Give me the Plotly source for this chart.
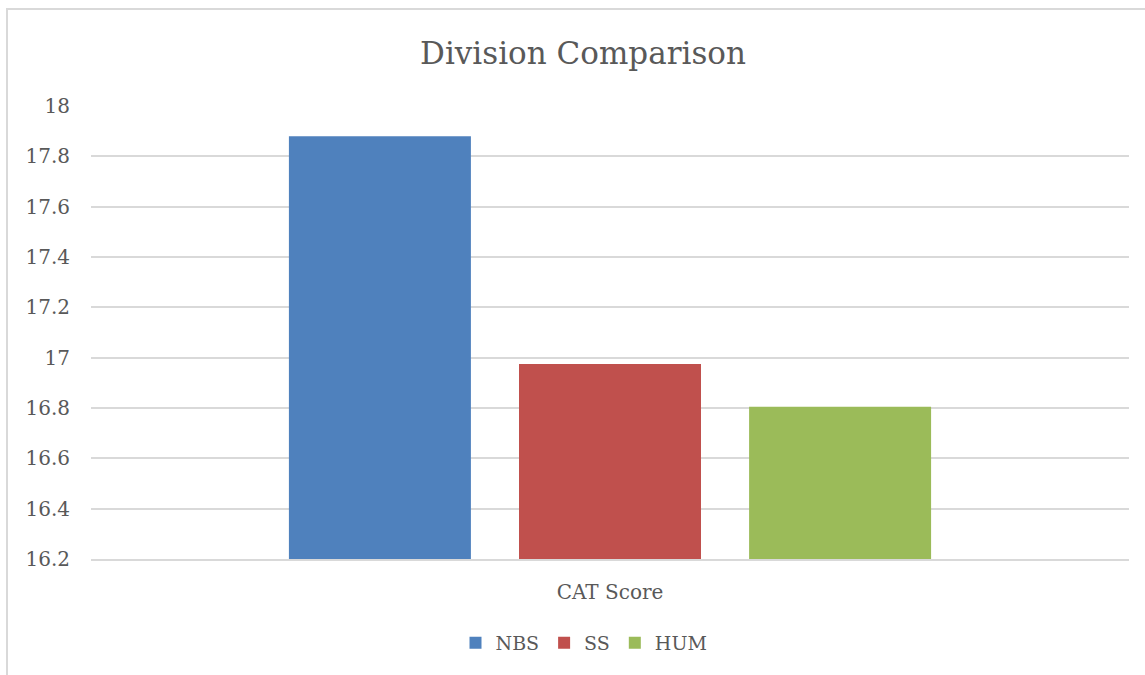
import plotly.graph_objects as go

categories = ["CAT Score"]
series_names = ["NBS", "SS", "HUM"]
nbs_values = [17.88]
ss_values = [16.975]
hum_values = [16.805]
colors = ["#4F81BD", "#C0504D", "#9BBB59"]
y_ticks = [16.2, 16.4, 16.6, 16.8, 17, 17.2, 17.4, 17.6, 17.8, 18]
y_tick_labels = ["16.2", "16.4", "16.6", "16.8", "17", "17.2", "17.4", "17.6", "17.8", "18"]

W, H = 1145, 675
ml, mr, mt, mb = 91, 16, 106, 116
pw = W - ml - mr
ph = H - mt - mb

FONT = "DejaVu Serif"
TXT = "#595959"

fig = go.Figure()
for name, vals, col in zip(series_names, [nbs_values, ss_values, hum_values], colors):
    fig.add_trace(go.Bar(x=categories, y=vals, name=name, marker=dict(color=col, line=dict(width=0))))

fig.update_layout(
    width=W, height=H,
    margin=dict(l=ml, r=mr, t=mt, b=mb),
    paper_bgcolor="white", plot_bgcolor="white",
    barmode="group", bargap=0.335, bargroupgap=0.209,
    title=dict(text="Division Comparison", x=583 / W, xref="container", xanchor="center",
               y=1 - 53 / H, yref="container", yanchor="middle",
               font=dict(family=FONT, size=31, color=TXT)),
    font=dict(family=FONT, color=TXT),
    showlegend=True,
    legend=dict(orientation="h", x=584 / W, xref="container", xanchor="center",
                y=1 - 643 / H, yref="container", yanchor="middle",
                font=dict(family=FONT, size=19, color=TXT),
                itemwidth=30, tracegroupgap=0),
    hovermode=False,
    shapes=[
        dict(type="rect", xref="paper", yref="paper",
             x0=(7 - ml) / pw, x1=(W + 20 - ml) / pw,
             y0=(H - mb - (H + 20)) / ph, y1=(H - mb - 9) / ph,
             line=dict(color="#d9d9d9", width=2), fillcolor="rgba(0,0,0,0)", layer="below"),
    ],
)
fig.update_yaxes(range=[16.2, 18], tickvals=y_ticks, ticktext=y_tick_labels,
                 showgrid=True, gridcolor="#d9d9d9", gridwidth=1.5, zeroline=False,
                 showline=False, ticks="", ticklabelstandoff=20,
                 tickfont=dict(family=FONT, size=20, color=TXT))
fig.update_xaxes(showgrid=False, zeroline=False, showline=True, linecolor="#d9d9d9", linewidth=1.5,
                 ticks="", ticklabelstandoff=14,
                 tickfont=dict(family=FONT, size=20, color=TXT))

fig.write_html("out.html", config={"displayModeBar": False},
               post_script="document.body.style.margin='0';document.body.style.overflow='hidden';")
